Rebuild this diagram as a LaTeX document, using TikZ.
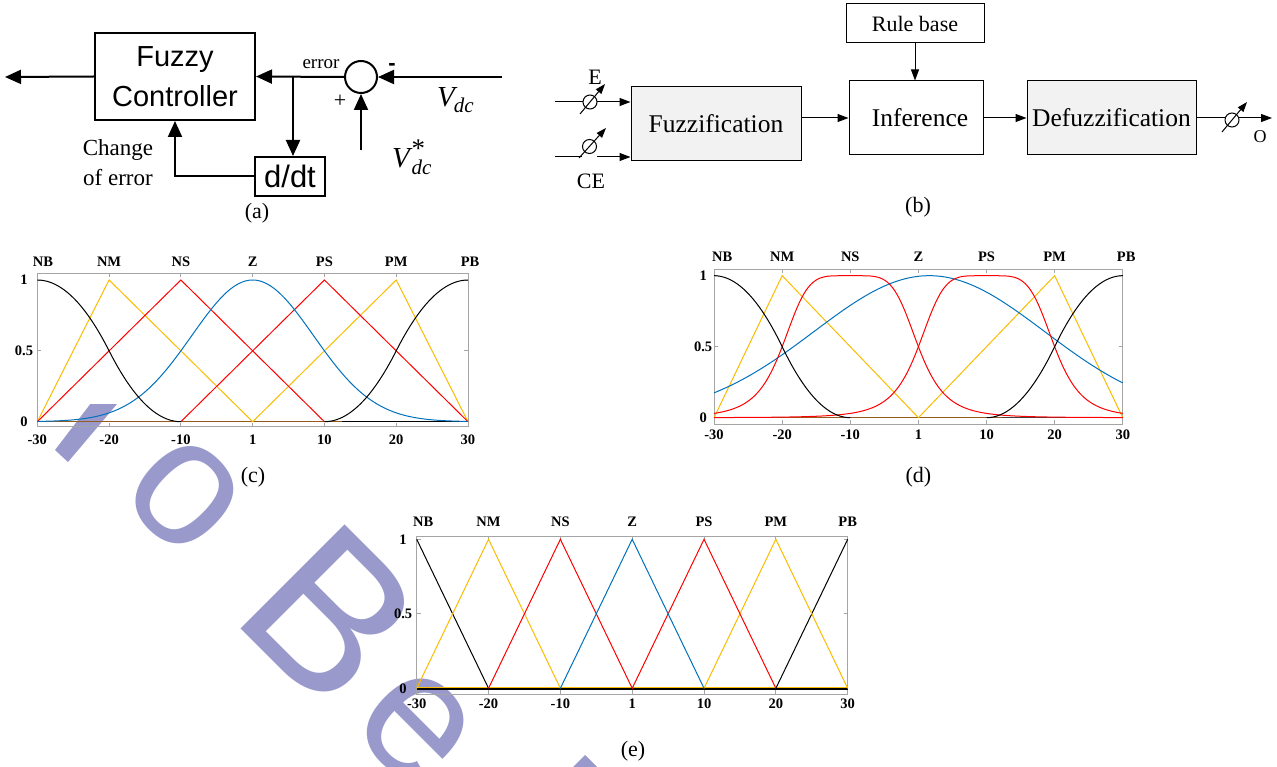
\documentclass[tikz,border=0pt]{standalone}
\usepackage{fontspec}
\setmainfont{Liberation Serif}
\newfontfamily\arialfont{Liberation Sans}
\usetikzlibrary{arrows.meta,calc}
\definecolor{mblue}{RGB}{0,114,189}
\definecolor{mred}{RGB}{255,0,0}
\definecolor{myel}{RGB}{250,188,0}
\definecolor{wm}{RGB}{153,153,204}
\definecolor{frgray}{RGB}{165,165,165}
\definecolor{boxgray}{RGB}{242,242,242}
\definecolor{brn}{RGB}{150,90,30}
\tikzset{
  ablk/.style={draw, line width=2pt, inner sep=0pt, align=center, font=\arialfont\fontsize{29}{40}\selectfont},
  aarr/.style={line width=2pt, -{Triangle[length=16pt,width=14pt]}},
  bblk/.style={draw, line width=1pt, inner sep=0pt, font=\fontsize{25.5}{30}\selectfont},
  barr/.style={line width=1pt, -{Triangle[length=11pt,width=8pt]}},
  darr/.style={line width=1pt, -{Triangle[length=10pt,width=7pt]}},
  gauge/.style={draw, circle, fill=white, line width=1pt, minimum size=14pt, inner sep=0pt},
  lbl/.style={inner sep=0pt},
  tl/.style={inner sep=0pt, font=\bfseries\fontsize{14.5}{15}\selectfont},
  fr/.style={draw=frgray, line width=0.9pt},
  cv/.style={line width=1pt},
  wmtext/.style={inner sep=0pt, text=wm, rotate=-45},
  capt/.style={inner sep=0pt, font=\fontsize{22}{22}\selectfont},
}
\begin{document}
\begin{tikzpicture}[x=1pt,y=-1pt,
  declare function={gb(\t,\c)=1/(1+abs((\t-\c)/10)*abs((\t-\c)/10)*abs((\t-\c)/10)*abs((\t-\c)/10)*abs((\t-\c)/10));}]
\useasboundingbox (0,0) rectangle (1277,767);

% ---------------- watermark ----------------
\begin{scope}
  \clip (0,404) rectangle (1277,767);
  \fill[wm] (55,450) -- (98,394) -- (125.5,394) -- (68,462) -- cycle;
  \node[wmtext, font=\arialfont\fontsize{180}{180}\selectfont] (wo) at (185,495) {o};
  \node[wmtext, font=\arialfont\fontsize{214}{214}\selectfont] (wB) at (331,615) {B};
  \node[wmtext, font=\arialfont\fontsize{180}{180}\selectfont] (we) at (416,727) {e};
  \fill[wm] (585,755) -- (600,770) -- (575,795) -- (560,780) -- cycle;
\end{scope}

% ---------------- (a) ----------------
\node[ablk, minimum width=160pt, minimum height=87pt] (fc) at (175,76.5) {Fuzzy\\Controller};
\node[ablk, minimum width=70pt, minimum height=39pt, font=\arialfont\fontsize{31}{34}\selectfont] (dd) at (290,176.5) {d/dt};
\node[draw, circle, line width=2pt, minimum size=32pt, inner sep=0pt] (sum) at (361,77) {};
\coordinate (aout) at (5,77);
\coordinate (jn) at (293,77);
\coordinate (vin) at (502,77);
\coordinate (vsin) at (361,150);
\draw[aarr] (fc.west) -- (aout);
\draw[aarr] (sum.west) -- (fc.east);
\draw[aarr] (jn) -- (jn |- dd.north);
\draw[aarr] (dd.west) -| (fc.south);
\draw[aarr] (vin) -- (sum.east);
\draw[aarr] (vsin) -- (sum.south);
\node[lbl, font=\fontsize{19}{19}\selectfont] (errl) at (321,64) {error};
\node[lbl, font=\arialfont\bfseries\fontsize{22}{22}\selectfont] (minus) at (392,67) {-};
\node[lbl, font=\fontsize{22}{22}\selectfont] (plus) at (340,101) {+};
\node[lbl, anchor=base west, font=\fontsize{29}{29}\selectfont] (vdc) at (437,107)
  {\textit{V\kern-1pt\raisebox{-6pt}{\fontsize{21}{21}\selectfont dc}}};
\node[lbl, anchor=base west, font=\fontsize{29}{29}\selectfont] (vdcs) at (392,168)
  {\textit{V}\kern-1pt\rlap{\raisebox{10pt}{\fontsize{27}{27}\selectfont *}}\raisebox{-7pt}{\itshape\fontsize{21}{21}\selectfont dc}};
\node[lbl, align=center, font=\fontsize{23}{30}\selectfont] (chg) at (118,163) {Change\\of error};
\node[capt] (capa) at (257,213) {(a)};

% ---------------- (b) ----------------
\node[bblk, minimum width=138pt, minimum height=39pt, font=\fontsize{22}{22}\selectfont] (rb) at (915,23.5) {Rule base};
\node[bblk, minimum width=134pt, minimum height=74pt] (inf) at (916,118) {\hspace*{8pt}Inference};
\node[bblk, fill=boxgray, minimum width=170pt, minimum height=74pt] (fz) at (716,124) {Fuzzification};
\node[bblk, fill=boxgray, minimum width=169pt, minimum height=74pt] (df) at (1111.5,118) {Defuzzification};
\draw[barr] (rb.south) -- (rb.south |- inf.north);
\draw[barr] (fz.east |- inf.west) -- (inf.west);
\draw[barr] (inf.east) -- (df.west);
\coordinate (oend) at (1272,118);
\draw[barr] (df.east) -- (oend);
\coordinate (ein) at (555,102);
\draw[barr] (ein) -- (ein -| fz.west);
\coordinate (cein) at (555,157);
\coordinate (cel) at (582,157);
\coordinate (cer) at (597,157);
\draw[line width=1pt] (cein) -- (cel);
\draw[barr] (cer) -- (cer -| fz.west);
\node[gauge] (eg) at (590,102) {};
\node[gauge] (ceg) at (589.5,146.5) {};
\node[gauge] (og) at (1232,120) {};
\draw[darr] ($(eg)+(-10,12)$) -- ($(eg)+(15,-18)$);
\draw[darr] ($(ceg)+(-10.5,11.5)$) -- ($(ceg)+(16.5,-18.5)$);
\draw[darr] ($(og)+(-10,12)$) -- ($(og)+(15,-18)$);
\node[lbl, font=\fontsize{22}{22}\selectfont] (el) at (595,77) {E};
\node[lbl, font=\fontsize{22}{22}\selectfont] (cel2) at (591,181) {CE};
\node[lbl, font=\fontsize{18}{18}\selectfont] (ol) at (1260,137) {O};
\node[capt] (capb) at (918,207) {(b)};

% ---------------- (c) ----------------
\begin{scope}[shift={(252.65,421.7)}, x=7.178pt, y=141.7pt]
  \draw[fr] (-30,-0.037) rectangle (30,1.049);
  \foreach \t in {-30,-20,...,30} {
    \draw[fr] (\t,-0.037) -- ++(0pt,4pt);
    \draw[fr] (\t,1.049) -- ++(0pt,-4pt);
  }
  \foreach \v in {0,0.5,1} {
    \draw[fr] (-30,\v) -- ++(4pt,0pt);
    \draw[fr] (30,\v) -- ++(-4pt,0pt);
  }
  \draw[cv, black] (-30,0) -- (30,0);
  \draw[line width=1.4pt, brn] (-30,0) -- (12.4,0);
  \draw[cv, myel] (-30,0) -- (-20,1) -- (0,0) -- (20,1) -- (30,0);
  \draw[cv, mred] (-30,0) -- (-10,1) -- (10,0);
  \draw[cv, mred] (-10,0) -- (10,1) -- (30,0);
  \draw[cv, mblue] plot[domain=-30:30, samples=121, smooth] (\x,{exp(-\x*\x/144.27)});
  \draw[cv, black] plot[domain=-30:-20, samples=21, smooth] (\x,{1-2*((\x+30)/20)^2})
                   -- plot[domain=-20:-10, samples=21, smooth] (\x,{2*((\x+10)/20)^2});
  \draw[cv, black] plot[domain=10:20, samples=21, smooth] (\x,{2*((\x-10)/20)^2})
                   -- plot[domain=20:30, samples=21, smooth] (\x,{1-2*((\x-30)/20)^2});
  \foreach \t/\l [count=\i] in {-29.2/NB,-20/NM,-10/NS,0/Z,10/PS,20/PM,30.3/PB}
    \node[tl] (ct\i) at (\t,1.127) {\l};
  \foreach \t/\l [count=\i] in {-30/-30,-20/-20,-10/-10,0/1,10/10,20/20,30/30}
    \node[tl] (cb\i) at (\t,-0.129) {\l};
  \node[tl] (cy1) at (-31.85,1) {1};
  \node[tl] (cy2) at (-31.85,0.5) {0.5};
  \node[tl] (cy3) at (-31.85,0) {0};
  \node[capt] (capc) at (0.05,-0.39) {(c)};
\end{scope}

% ---------------- (d) ----------------
\begin{scope}[shift={(918.4,417.7)}, x=6.812pt, y=142pt]
  \draw[fr] (-30,-0.044) rectangle (30,1.047);
  \foreach \t in {-30,-20,...,30} {
    \draw[fr] (\t,-0.044) -- ++(0pt,4pt);
    \draw[fr] (\t,1.047) -- ++(0pt,-4pt);
  }
  \foreach \v in {0,0.5,1} {
    \draw[fr] (-30,\v) -- ++(4pt,0pt);
    \draw[fr] (30,\v) -- ++(-4pt,0pt);
  }
  \draw[line width=1.4pt, black!75] (-30,0) -- (30,0);
  \draw[line width=1.4pt, brn] (-30,0) -- (12.2,0);
  \draw[cv, myel] (-30,0) -- (-20,1) -- (0,0) -- (20,1) -- (30,0);
  \draw[cv, mblue] plot[domain=-30:30, samples=121, smooth] (\x,{exp(-(\x-1.6)*(\x-1.6)/573)});
  \draw[cv, mred] plot[domain=-30:30, samples=161, smooth] (\x,{gb(\x,-10)});
  \draw[cv, mred] plot[domain=-30:30, samples=161, smooth] (\x,{gb(\x,10)});
  \draw[cv, black] plot[domain=-30:-20, samples=21, smooth] (\x,{1-2*((\x+30)/20)^2})
                   -- plot[domain=-20:-10, samples=21, smooth] (\x,{2*((\x+10)/20)^2});
  \draw[cv, black] plot[domain=10:20, samples=21, smooth] (\x,{2*((\x-10)/20)^2})
                   -- plot[domain=20:30, samples=21, smooth] (\x,{1-2*((\x-30)/20)^2});
  \foreach \t/\l [count=\i] in {-28.8/NB,-20/NM,-10/NS,0/Z,10/PS,20/PM,30.5/PB}
    \node[tl] (dt\i) at (\t,1.13) {\l};
  \foreach \t/\l [count=\i] in {-30/-30,-20/-20,-10/-10,0/1,10/10,20/20,30/30}
    \node[tl] (db\i) at (\t,-0.122) {\l};
  \node[tl] (dy1) at (-31.6,1) {1};
  \node[tl] (dy2) at (-31.6,0.5) {0.5};
  \node[tl] (dy3) at (-31.6,0) {0};
  \node[capt] (capd) at (0,-0.419) {(d)};
\end{scope}

% ---------------- (e) ----------------
\begin{scope}[shift={(632.2,688.3)}, x=7.183pt, y=149pt]
  \draw[fr] (-30,-0.038) rectangle (30,1.02);
  \foreach \t in {-30,-20,...,30} {
    \draw[fr] (\t,-0.038) -- ++(0pt,4pt);
    \draw[fr] (\t,1.02) -- ++(0pt,-4pt);
  }
  \foreach \v in {0,0.5,1} {
    \draw[fr] (-30,\v) -- ++(4pt,0pt);
    \draw[fr] (30,\v) -- ++(-4pt,0pt);
  }
  \draw[line width=0.8pt, myel] (-30,0.006) -- (30,0.006);
  \draw[line width=1.3pt, black] (-30,-0.004) -- (30,-0.004);
  \draw[cv, black] (-30,1) -- (-20,0);
  \draw[cv, black] (20,0) -- (30,1);
  \draw[cv, myel] (-30,0) -- (-20,1) -- (-10,0);
  \draw[cv, myel] (10,0) -- (20,1) -- (30,0);
  \draw[cv, mred] (-20,0) -- (-10,1) -- (0,0) -- (10,1) -- (20,0);
  \draw[cv, mblue] (-10,0) -- (0,1) -- (10,0);
  \foreach \t/\l [count=\i] in {-29.1/NB,-20/NM,-10/NS,0/Z,10/PS,20/PM,30/PB}
    \node[tl] (et\i) at (\t,1.12) {\l};
  \foreach \t/\l [count=\i] in {-30/-30,-20/-20,-10/-10,0/1,10/10,20/20,30/30}
    \node[tl] (eb\i) at (\t,-0.105) {\l};
  \node[tl] (ey1) at (-31.9,1) {1};
  \node[tl] (ey2) at (-31.9,0.5) {0.5};
  \node[tl] (ey3) at (-31.9,0) {0};
  \node[capt] (cape) at (0.11,-0.421) {(e)};
\end{scope}
\end{tikzpicture}
\end{document}
